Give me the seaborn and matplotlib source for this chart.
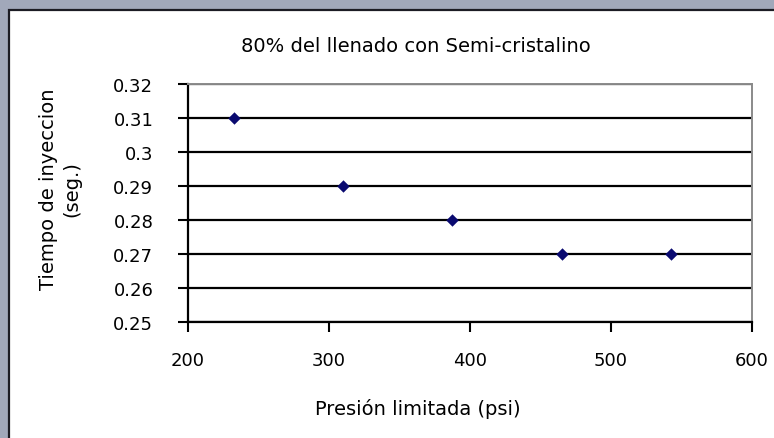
import matplotlib
matplotlib.use("Agg")
import matplotlib.pyplot as plt
import seaborn as sns
import pandas as pd
from matplotlib.patches import Rectangle

# Measured points: limited pressure vs. injection time
presion = [232.5, 310.0, 387.5, 465.0, 542.5]
tiempo = [0.31, 0.29, 0.28, 0.27, 0.27]

x_ticks = [200, 300, 400, 500, 600]
y_ticks = [0.25, 0.26, 0.27, 0.28, 0.29, 0.30, 0.31, 0.32]
y_tick_labels = ["0.25", "0.26", "0.27", "0.28", "0.29", "0.3", "0.31", "0.32"]

titulo = "80% del llenado con Semi-cristalino"
etiqueta_x = "Presión limitada (psi)"
etiqueta_y = "Tiempo de inyeccion\n(seg.)"

df = pd.DataFrame({"presion": presion, "tiempo": tiempo})

sns.set_theme(style="white")
plt.rcParams["font.family"] = ["DejaVu Sans"]

W, H = 774, 439
fig = plt.figure(figsize=(W / 100, H / 100), dpi=100)
fig.patch.set_facecolor("#a1a8ba")

# White chart area with dark frame
fig.add_artist(Rectangle((8.5 / W, -0.05), 1.0, (H - 11) / H + 0.05,
                         transform=fig.transFigure, facecolor="white",
                         edgecolor="#1c1c24", lw=1.6, zorder=-5))

left, right, top, bottom = 188, 752, 85, 323
ax = fig.add_axes([left / W, 1 - bottom / H, (right - left) / W, (bottom - top) / H])
ax.set_facecolor("white")

sns.scatterplot(data=df, x="presion", y="tiempo", ax=ax, marker="D",
                color="#0a0a70", s=40, linewidth=0, zorder=5, legend=False)

ax.set_xlim(200, 600)
ax.set_ylim(0.25, 0.32)
ax.set_xticks(x_ticks)
ax.set_xticklabels([str(v) for v in x_ticks])
ax.set_yticks(y_ticks)
ax.set_yticklabels(y_tick_labels)

ax.grid(axis="y", color="black", lw=1.6)
ax.grid(axis="x", visible=False)
ax.set_axisbelow(True)

for s in ("left", "bottom"):
    ax.spines[s].set_color("black")
    ax.spines[s].set_linewidth(1.6)
for s in ("top", "right"):
    ax.spines[s].set_color("#8a8a8a")
    ax.spines[s].set_linewidth(1.4)

ax.tick_params(axis="both", direction="out", length=7, width=1.5, color="black",
               labelsize=13, labelcolor="black", bottom=True, left=True)
ax.tick_params(axis="y", pad=18)
ax.tick_params(axis="x", pad=14)
ax.set_xlabel("")
ax.set_ylabel("")

fig.text(416 / W, 1 - 47 / H, titulo, ha="center", va="center", fontsize=14, color="black")
fig.text(418 / W, 1 - 409 / H, etiqueta_x, ha="center", va="center", fontsize=14, color="black")
fig.text(60 / W, 1 - 189 / H, etiqueta_y, ha="center", va="center", rotation=90,
         fontsize=14, color="black", linespacing=1.3, multialignment="center")

fig.savefig("out.png", dpi=100, facecolor=fig.get_facecolor())
